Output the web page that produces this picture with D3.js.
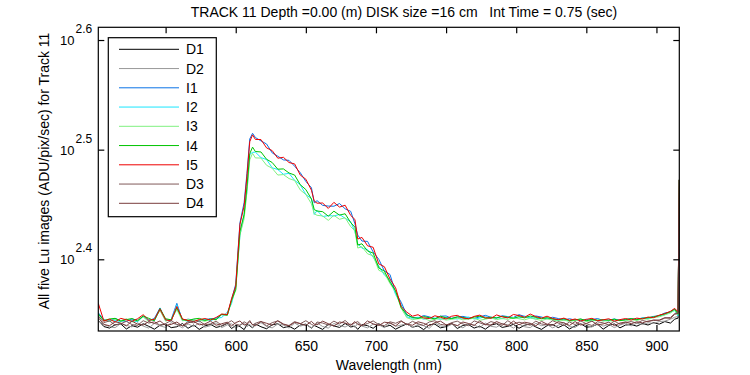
<!DOCTYPE html>
<html>
<head>
<meta charset="utf-8">
<script src="https://cdn.jsdelivr.net/npm/d3@7"></script>
<style>
  body { margin: 0; background: #fff; }
  svg { display: block; font-family: "Liberation Sans", Arial, sans-serif; }
  text { white-space: pre; }
</style>
</head>
<body>
<svg id="chart" width="750" height="375"></svg>
<script>
// wavelength grid (nm)
const wavelength = [
  502, 506, 510, 514, 518, 522, 526, 530, 534, 538,
  542, 546, 550, 554, 558, 562, 566, 570, 574, 578,
  582, 586, 590, 594, 597, 600, 603, 606, 608, 610,
  612, 614, 618, 622, 626, 630, 634, 638, 642, 646,
  650, 654, 656, 658, 662, 666, 670, 674, 678, 682,
  685, 687, 690, 694, 698, 702, 706, 710, 714, 718,
  722, 726, 730, 734, 738, 742, 746, 750, 754, 758,
  762, 766, 770, 774, 778, 782, 786, 790, 794, 798,
  802, 806, 810, 814, 818, 822, 826, 830, 834, 838,
  842, 846, 850, 854, 858, 862, 866, 870, 874, 878,
  882, 886, 890, 894, 898, 902, 906, 910, 913, 915.4,
  916.3
];

// dark images
const d1 = [
  221.0, 218.1, 217.4, 218.9, 219.3, 217.0, 218.5, 217.8, 219.4, 218.2,
  216.9, 218.7, 219.2, 217.6, 218.0, 219.5, 217.3, 218.8, 216.8, 218.4,
  219.1, 217.7, 218.3, 219.6, 217.2, 218.6, 218.1, 216.7, 219.0, 218.5,
  217.5, 219.3, 218.0, 217.1, 218.9, 219.4, 217.6, 218.2, 216.9, 218.8,
  219.2, 217.4, 218.6, 218.0, 216.8, 219.1, 218.4, 217.7, 219.5, 217.9,
  218.3, 216.8, 219.0, 218.5, 217.3, 219.4, 217.9, 218.7, 216.9, 218.2,
  219.3, 217.8, 218.4, 216.7, 218.9, 219.2, 217.5, 218.1, 219.6, 217.2,
  218.6, 219.0, 217.4, 218.3, 216.9, 218.8, 219.4, 217.7, 218.2, 219.1,
  217.3, 218.7, 219.3, 217.9, 216.8, 218.5, 219.0, 217.6, 218.9, 217.0,
  218.4, 219.4, 217.8, 218.1, 219.2, 216.9, 218.6, 219.3, 217.5, 218.8,
  219.0, 218.3, 219.5, 218.8, 219.9, 219.2, 220.4, 219.7, 221.5, 222.0,
  296.8
];
const d2 = [
  220.6, 219.2, 218.0, 217.6, 219.5, 218.7, 217.9, 219.8, 218.3, 217.4,
  219.6, 218.4, 217.7, 219.9, 218.9, 217.5, 219.3, 218.1, 219.7, 217.8,
  218.5, 219.8, 217.6, 218.9, 219.4, 217.3, 218.7, 219.6, 218.0, 219.1,
  217.7, 218.6, 219.9, 218.2, 217.5, 219.3, 218.8, 217.4, 219.7, 218.3,
  219.0, 217.6, 218.4, 219.8, 218.1, 217.4, 219.5, 218.6, 217.9, 219.3,
  217.8, 219.6, 218.3, 217.5, 219.2, 218.9, 217.6, 219.7, 218.2, 218.8,
  219.4, 217.7, 219.0, 218.5, 217.3, 219.8, 218.4, 217.9, 219.1, 218.6,
  217.5, 219.3, 218.8, 217.6, 219.7, 218.2, 217.8, 219.5, 218.9, 217.4,
  219.2, 218.0, 217.6, 219.6, 218.5, 219.0, 217.5, 218.7, 219.9, 218.1,
  217.7, 219.4, 218.6, 217.9, 219.5, 218.3, 219.1, 217.6, 218.8, 219.6,
  218.4, 219.7, 219.0, 219.8, 219.6, 220.4, 220.6, 221.5, 222.4, 222.8,
  296.8
];
const d3v = [
  223.0, 219.9, 220.7, 218.8, 219.4, 220.5, 219.0, 218.6, 220.8, 219.7,
  220.3, 218.7, 219.5, 220.9, 219.1, 218.5, 220.4, 219.8, 220.7, 218.9,
  219.3, 220.6, 218.6, 219.7, 220.8, 219.2, 218.7, 220.3, 219.5, 220.9,
  218.8, 219.6, 220.5, 218.4, 219.9, 220.7, 219.0, 218.6, 220.4, 219.4,
  220.8, 219.1, 218.5, 220.2, 219.7, 218.8, 220.6, 219.3, 220.9, 218.7,
  219.8, 220.4, 218.6, 219.5, 220.7, 219.0, 218.5, 220.3, 219.6, 220.8,
  218.9, 220.5, 219.4, 218.6, 220.2, 220.8, 219.1, 218.7, 219.9, 220.6,
  219.3, 218.5, 220.7, 219.8, 218.9, 220.4, 219.6, 218.6, 220.8, 219.2,
  220.1, 219.5, 218.7, 220.6, 219.3, 218.9, 220.8, 219.7, 218.5, 220.2,
  219.0, 220.7, 219.4, 218.6, 220.3, 219.8, 218.8, 220.6, 219.2, 220.0,
  220.4, 219.7, 220.9, 220.3, 221.2, 220.9, 222.0, 222.3, 224.1, 224.6,
  296.8
];
const d4 = [
  222.2, 219.0, 218.5, 220.3, 219.7, 218.4, 220.6, 219.2, 218.8, 220.4,
  219.5, 220.7, 218.6, 219.1, 220.2, 218.3, 219.8, 220.5, 218.9, 219.3,
  220.6, 218.7, 219.4, 220.1, 218.4, 219.9, 220.7, 218.8, 219.2, 220.3,
  219.0, 218.5, 220.4, 219.6, 218.7, 220.8, 219.3, 218.4, 220.0, 219.5,
  218.6, 220.5, 219.2, 218.9, 220.6, 219.4, 218.3, 220.2, 219.7, 218.8,
  220.4, 219.1, 218.5, 220.7, 219.3, 218.6, 220.1, 219.8, 218.4, 220.5,
  219.2, 218.7, 220.3, 219.6, 218.4, 219.9, 220.6, 218.9, 219.4, 218.5,
  220.2, 219.5, 218.6, 220.7, 219.0, 218.8, 220.4, 219.3, 218.5, 220.6,
  218.9, 220.1, 219.6, 218.4, 220.5, 219.2, 218.7, 220.3, 219.8, 218.6,
  220.4, 218.8, 219.5, 220.6, 218.9, 219.3, 220.1, 218.5, 219.7, 220.2,
  219.4, 220.3, 219.8, 220.6, 220.9, 221.1, 222.2, 221.9, 223.8, 224.2,
  296.8
];

// lit images
const i1 = [
  224.5, 221.2, 220.6, 221.8, 220.9, 220.4, 221.6, 221.0, 222.9, 220.7,
  221.9, 226.8, 220.8, 221.4, 229.0, 220.9, 221.5, 221.1, 220.6, 221.3,
  221.7, 221.9, 223.6, 223.4, 230.6, 238.4, 271.2, 283.0, 300.8, 323.4,
  327.3, 324.4, 322.1, 320.0, 314.1, 311.9, 309.5, 309.2, 305.4, 301.3,
  295.8, 291.9, 282.8, 284.1, 281.3, 280.9, 280.8, 282.4, 279.3, 277.8,
  270.6, 264.3, 261.0, 260.8, 255.1, 251.2, 245.1, 243.3, 234.2, 229.5,
  223.5, 222.4, 222.1, 223.2, 222.6, 221.7, 222.9, 223.0, 221.9, 222.5,
  222.8, 222.2, 221.8, 222.6, 223.3, 222.4, 222.0, 223.1, 222.7, 222.3,
  223.6, 222.8, 222.3, 223.0, 222.5, 221.7, 222.4, 221.8, 221.2, 221.7,
  221.1, 221.5, 220.9, 221.3, 221.8, 220.9, 221.1, 221.6, 221.0, 221.4,
  221.7, 221.4, 222.1, 222.0, 222.8, 223.1, 224.4, 224.9, 226.2, 224.5,
  256.7
];
const i2 = [
  224.0, 220.7, 221.2, 220.9, 220.4, 221.5, 220.8, 220.3, 222.8, 221.3,
  220.9, 226.0, 221.4, 220.6, 228.3, 221.2, 220.5, 221.0, 220.7, 221.5,
  220.8, 221.9, 222.3, 224.8, 228.8, 237.0, 264.0, 276.3, 289.6, 313.2,
  314.4, 314.6, 311.0, 309.7, 304.4, 303.3, 300.3, 300.9, 296.5, 293.8,
  287.8, 285.3, 276.0, 278.3, 274.8, 275.3, 275.1, 276.0, 273.8, 271.8,
  266.1, 259.6, 257.1, 256.4, 252.3, 247.7, 243.0, 240.7, 233.3, 228.3,
  222.6, 221.9, 222.4, 221.5, 222.2, 222.0, 221.4, 222.3, 221.8, 221.6,
  222.1, 222.5, 221.6, 222.0, 222.7, 221.9, 222.3, 221.7, 222.6, 222.2,
  222.0, 222.9, 222.2, 221.6, 222.4, 221.9, 221.5, 221.0, 221.6, 220.8,
  221.3, 220.9, 221.5, 220.6, 221.2, 221.0, 220.7, 221.4, 220.9, 221.1,
  221.6, 221.2, 222.0, 221.8, 222.4, 223.0, 223.6, 224.9, 225.6, 223.0,
  296.8
];
const i3 = [
  223.5, 221.0, 220.5, 221.4, 220.8, 221.7, 220.2, 221.1, 222.5, 220.4,
  221.6, 225.5, 220.6, 221.3, 226.0, 220.7, 221.4, 220.9, 221.1, 220.5,
  221.5, 221.2, 223.6, 223.3, 230.0, 235.3, 264.4, 273.6, 289.5, 309.5,
  313.8, 310.8, 310.7, 306.0, 304.1, 299.8, 300.1, 297.6, 296.4, 290.6,
  287.8, 282.2, 276.4, 275.5, 275.1, 272.6, 275.5, 273.2, 274.1, 269.0,
  266.7, 257.2, 257.9, 254.1, 253.0, 245.5, 244.0, 238.7, 234.6, 226.6,
  222.2, 221.3, 221.7, 221.9, 220.9, 221.5, 221.8, 221.1, 221.4, 222.0,
  221.2, 221.6, 221.9, 221.0, 221.5, 222.1, 221.3, 221.8, 221.4, 222.2,
  221.7, 221.2, 222.0, 221.5, 220.9, 221.6, 221.1, 220.6, 221.0, 220.5,
  220.9, 221.3, 220.4, 220.8, 221.2, 220.6, 220.9, 220.5, 221.1, 220.7,
  221.3, 220.9, 221.7, 221.5, 222.3, 222.6, 223.5, 224.4, 225.8, 223.5,
  296.8
];
const i4 = [
  224.0, 220.9, 221.6, 221.9, 220.6, 221.3, 221.8, 220.7, 223.0, 221.9,
  220.8, 226.5, 221.7, 221.2, 226.8, 221.4, 220.8, 221.6, 221.9, 220.9,
  221.6, 221.3, 223.8, 223.4, 230.4, 235.8, 266.4, 276.0, 292.6, 313.6,
  317.9, 315.0, 314.7, 309.9, 307.8, 303.5, 303.7, 301.1, 299.8, 293.8,
  290.8, 285.1, 278.8, 278.0, 277.6, 275.0, 277.9, 275.6, 276.4, 271.3,
  268.7, 258.8, 259.5, 255.6, 254.5, 246.7, 245.0, 239.5, 235.1, 226.9,
  223.6, 222.3, 221.9, 222.7, 222.2, 221.6, 222.9, 222.1, 221.8, 222.6,
  222.3, 221.7, 222.5, 222.9, 221.9, 222.4, 222.1, 222.8, 222.4, 221.9,
  222.7, 222.1, 223.0, 222.3, 221.7, 222.2, 221.6, 221.2, 221.7, 220.9,
  221.2, 221.6, 220.8, 221.4, 220.9, 221.3, 221.0, 221.5, 220.8, 221.3,
  221.8, 221.3, 221.9, 222.2, 222.6, 223.2, 224.0, 225.0, 226.3, 223.8,
  296.8
];
const i5 = [
  229.0, 220.6, 221.5, 220.2, 221.9, 221.2, 220.5, 221.7, 223.6, 221.0,
  221.4, 226.2, 221.2, 220.7, 227.5, 221.6, 220.9, 220.4, 221.3, 221.8,
  221.1, 222.3, 223.9, 223.7, 231.2, 237.4, 270.3, 281.0, 299.0, 321.6,
  326.2, 323.1, 323.0, 317.4, 315.6, 310.6, 311.2, 307.8, 306.9, 299.8,
  297.2, 290.4, 283.8, 282.6, 282.7, 279.5, 283.1, 280.3, 281.4, 275.4,
  273.1, 262.1, 263.0, 258.4, 257.6, 248.8, 247.3, 241.0, 236.6, 227.4,
  224.8, 222.9, 223.6, 222.1, 221.8, 223.1, 222.4, 221.6, 222.9, 223.3,
  222.0, 221.7, 222.8, 223.4, 222.2, 221.9, 223.5, 222.6, 222.1, 223.7,
  223.2, 222.4, 223.9, 222.7, 222.0, 222.9, 221.8, 221.3, 222.0, 221.0,
  221.6, 220.7, 221.4, 221.9, 220.8, 221.2, 221.7, 220.6, 221.3, 221.8,
  221.1, 222.0, 221.6, 222.5, 222.2, 223.4, 224.1, 225.2, 226.6, 224.9,
  296.8
];

const seriesNames = ["D1", "D2", "I1", "I2", "I3", "I4", "I5", "D3", "D4"];
const seriesValues = [d1, d2, i1, i2, i3, i4, i5, d3v, d4];
const seriesColors = ["#000000", "#999999", "#0a72e6", "#19e6ff", "#80f080",
                      "#00c400", "#ee0000", "#805a5a", "#7a3c3c"];

const xTicks = [550, 600, 650, 700, 750, 800, 850, 900];
const yTickExps = ["2.4", "2.5", "2.6"];

const titleText = "TRACK 11 Depth =0.00 (m) DISK size =16 cm   Int Time = 0.75 (sec)";
const xLabel = "Wavelength (nm)";
const yLabel = "All five Lu images (ADU/pix/sec) for Track 11";

// ---- layout
const L = 98.3, R = 679.3, T = 27.3, B = 331;

const svg = d3.select("#chart");

const x = d3.scaleLinear().domain([502, 916.3]).range([L, R]);
const y = d3.scaleLog().domain([Math.pow(10, 2.3346), Math.pow(10, 2.6116)]).range([B, T]);

svg.append("defs").append("clipPath").attr("id", "plotclip")
  .append("rect").attr("x", L).attr("y", T).attr("width", R - L).attr("height", B - T);

// lines, in plotting order (D3, D4 end up on top)
const line = d3.line()
  .x((d, i) => x(wavelength[i]))
  .y(d => y(d));

const lines = svg.append("g").attr("clip-path", "url(#plotclip)");
seriesValues.forEach((vals, k) => {
  lines.append("path")
    .datum(vals)
    .attr("fill", "none")
    .attr("stroke", seriesColors[k])
    .attr("stroke-width", 1)
    .attr("d", line);
});

// axes: inward ticks on all four sides
const yTickVals = yTickExps.map(e => Math.pow(10, +e));

svg.append("g").attr("transform", `translate(0,${B})`)
  .call(d3.axisBottom(x).tickValues(xTicks).tickSize(-6).tickPadding(10).tickFormat(d3.format("d")))
  .call(g => g.select(".domain").remove())
  .call(g => g.selectAll("text").attr("font-size", 14).attr("fill", "#000").attr("font-family", null));
svg.append("g").attr("transform", `translate(0,${T})`)
  .call(d3.axisTop(x).tickValues(xTicks).tickSize(-6).tickFormat(""))
  .call(g => g.select(".domain").remove());
svg.append("g").attr("transform", `translate(${L},0)`)
  .call(d3.axisLeft(y).tickValues(yTickVals).tickSize(-6).tickFormat(""))
  .call(g => g.select(".domain").remove());
svg.append("g").attr("transform", `translate(${R},0)`)
  .call(d3.axisRight(y).tickValues(yTickVals).tickSize(-6).tickFormat(""))
  .call(g => g.select(".domain").remove());

svg.selectAll(".tick line").attr("stroke", "#000").attr("stroke-width", 1.2);

// y tick labels as 10^e
yTickExps.forEach((e, k) => {
  const ty = y(yTickVals[k]);
  const t = svg.append("text")
    .attr("x", 60).attr("y", ty + 5)
    .attr("font-size", 13).attr("fill", "#000");
  t.append("tspan").text("10");
  t.append("tspan").attr("dx", 1).attr("dy", -12).attr("font-size", 12).text(e);
});

// plot box
svg.append("rect")
  .attr("x", L).attr("y", T).attr("width", R - L).attr("height", B - T)
  .attr("fill", "none").attr("stroke", "#000").attr("stroke-width", 1.2);

// title and axis labels
svg.append("text").attr("x", 404).attr("y", 17).attr("text-anchor", "middle")
  .attr("font-size", 14).text(titleText);
svg.append("text").attr("x", (L + R) / 2).attr("y", 370).attr("text-anchor", "middle")
  .attr("font-size", 14).text(xLabel);
svg.append("text").attr("transform", `translate(49,171) rotate(-90)`)
  .attr("text-anchor", "middle").attr("font-size", 14).text(yLabel);

// legend
const legX = 108.3, legY = 37.7, legW = 108, legH = 179, legStep = 19.25, legFirst = 49.3;
const leg = svg.append("g");
leg.append("rect").attr("x", legX).attr("y", legY).attr("width", legW).attr("height", legH)
  .attr("fill", "#fff").attr("stroke", "#000").attr("stroke-width", 1.2);
seriesNames.forEach((name, k) => {
  const ly = legFirst + k * legStep;
  leg.append("line").attr("x1", 119).attr("x2", 179).attr("y1", ly).attr("y2", ly)
    .attr("stroke", seriesColors[k]).attr("stroke-width", 1);
  leg.append("text").attr("x", 186).attr("y", ly + 5).attr("font-size", 14).text(name);
});
</script>
</body>
</html>
